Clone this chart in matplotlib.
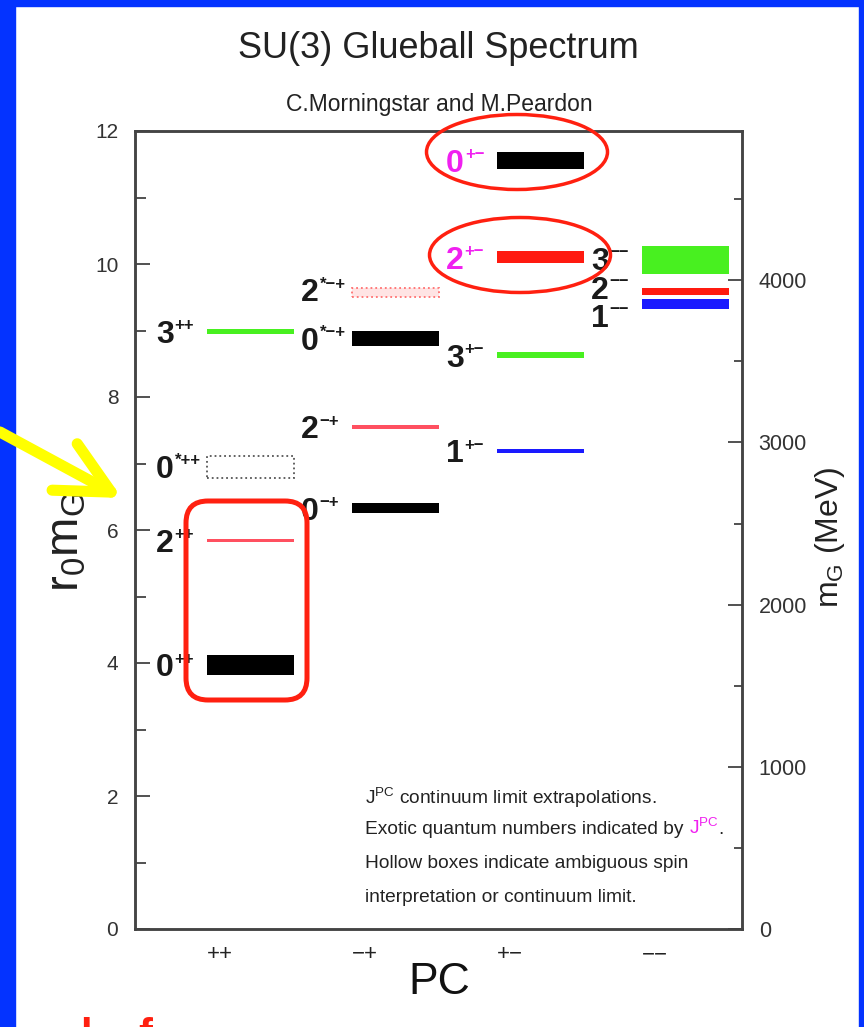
import matplotlib
matplotlib.use('Agg')
import matplotlib.pyplot as plt
from matplotlib.patches import Rectangle, Ellipse, FancyBboxPatch, FancyArrowPatch
from matplotlib.transforms import Affine2D
from matplotlib.ticker import MultipleLocator

plt.rcParams['font.family'] = ['Liberation Sans', 'DejaVu Sans']
plt.rcParams['mathtext.fontset'] = 'custom'
plt.rcParams['mathtext.rm'] = 'Liberation Sans'
plt.rcParams['mathtext.it'] = 'Liberation Sans:italic'
plt.rcParams['mathtext.bf'] = 'Liberation Sans:bold'

# PC channels on the x axis
pc_labels = ['++', '−+', '+−', '−−']

# glueball states: channel, spin J, superscript, r0*m, half width of band
state_col = [0, 0, 0, 0, 1, 1, 1, 1, 2, 2, 2, 2, 3, 3, 3]
state_J = ['0', '2', '0', '3', '0', '2', '0', '2', '1', '3', '2', '0', '1', '2', '3']
state_sup = ['++', '++', '*++', '++', '−+', '−+', '*−+', '*−+',
             '+−', '+−', '+−', '+−', '−−', '−−', '−−']
state_mass = [3.97, 5.84, 6.95, 8.99, 6.33, 7.55, 8.88, 9.57,
              7.19, 8.63, 10.10, 11.56, 9.40, 9.59, 10.06]
state_err = [0.15, 0.025, 0.17, 0.04, 0.075, 0.03, 0.11, 0.07,
             0.035, 0.045, 0.09, 0.125, 0.07, 0.05, 0.205]
state_hollow = [False, False, True, False, False, False, False, True,
                False, False, False, False, False, False, False]
state_exotic = [False, False, False, False, False, False, False, False,
                False, False, True, True, False, False, False]

r0_inv_mev = 410.0   # 1/r0 in MeV

# styles
spin_color = {'0': '#000000', '1': '#1a1aff', '2': '#ff1a10', '3': '#48f020'}
light_red = '#ff5060'
magenta = '#f020f0'
# label nudges so the -- labels don't overlap
label_dy = [0.0] * 7 + [0.04] + [0.0] * 4 + [-0.17, 0.06, 0.03]

W, H = 864, 1027
fig = plt.figure(figsize=(W / 100, H / 100), dpi=100)
fig.patch.set_facecolor('white')
px = Affine2D().scale(1, -1).translate(0, H)   # pixel coords, y down

ax = fig.add_axes([135 / W, 1 - 929 / H, 607 / W, 798 / H])
ax.set_xlim(0.414, 4.60)
ax.set_ylim(0, 12)

for i in range(len(state_mass)):
    x0 = state_col[i] + 1 - 0.09
    m, e = state_mass[i], state_err[i]
    col = spin_color[state_J[i]]
    if state_J[i] == '2' and state_col[i] in (0, 1):
        col = light_red
    if state_hollow[i]:
        if state_J[i] == '0':
            ax.bar(x0, 2 * e, bottom=m - e, width=0.6, align='edge',
                   facecolor='none', edgecolor='#555555', linestyle=':', lw=1.3)
        else:
            ax.bar(x0, 2 * e, bottom=m - e, width=0.6, align='edge',
                   facecolor='#ffe4e4', edgecolor='#ff7070', linestyle=':', lw=1.3)
    else:
        ax.bar(x0, 2 * e, bottom=m - e, width=0.6, align='edge', color=col, lw=0)

    tcol = magenta if state_exotic[i] else '#1a1a1a'
    t = ax.text(x0 - 0.35, m + label_dy[i], state_J[i], fontsize=23, weight='bold',
                color=tcol, ha='left', va='center_baseline')
    ax.annotate(state_sup[i], xy=(1, 1), xycoords=t, xytext=(0.5, -3),
                textcoords='offset points', fontsize=12, weight='bold',
                color=tcol, ha='left', va='center_baseline')

ax.set_xticks([1, 2, 3, 4], pc_labels)
ax.yaxis.set_major_locator(MultipleLocator(2))
ax.yaxis.set_minor_locator(MultipleLocator(1))
ax.tick_params(axis='x', length=0, labelsize=16, pad=11, labelcolor='#222222')
ax.tick_params(axis='y', which='major', direction='in', length=11, width=1.2,
               color='#333333', labelsize=15, labelcolor='#333333', pad=12)
ax.tick_params(axis='y', which='minor', direction='in', length=8, width=1.2,
               color='#333333')

ax2 = ax.twinx()
ax2.set_ylim(0, 12 * r0_inv_mev)
ax2.yaxis.set_major_locator(MultipleLocator(1000))
ax2.yaxis.set_minor_locator(MultipleLocator(500))
ax2.tick_params(axis='y', which='major', direction='in', length=10, width=1.2,
                color='#333333', labelsize=15.5, labelcolor='#333333', pad=12)
ax2.tick_params(axis='y', which='minor', direction='in', length=6, width=1.2,
                color='#333333')
for a in (ax, ax2):
    for s in a.spines.values():
        s.set_color('#444444')
        s.set_linewidth(1.8)

# titles and axis labels
fig.text(438, 48, 'SU(3) Glueball Spectrum', transform=px, ha='center',
         va='center', fontsize=26, color='#222222')
fig.text(439, 104, 'C.Morningstar and M.Peardon', transform=px, ha='center',
         va='center', fontsize=16.5, color='#222222')
fig.text(439, 982, 'PC', transform=px, ha='center', va='center', fontsize=32,
         color='#111111')
fig.text(66, 542, r'r$_0$m$_\mathregular{G}$', transform=px, ha='center',
         va='center', rotation=90, fontsize=34, color='#222222')
fig.text(830, 537, r'm$_\mathregular{G}$ (MeV)', transform=px, ha='center',
         va='center', rotation=90, fontsize=23, color='#222222')

# notes
fs = 13.8
nk = dict(transform=px, ha='left', va='center', fontsize=fs, color='#222222')
fig.text(365, 798, r'J$^{\mathregular{PC}}$ continuum limit extrapolations.', **nk)
t2 = fig.text(365, 830, 'Exotic quantum numbers indicated by ', **nk)
t2m = plt.annotate(r'J$^{\mathregular{PC}}$', xy=(1, 0), xycoords=t2, fontsize=fs,
                   color=magenta, ha='left', va='bottom', annotation_clip=False)
plt.annotate('.', xy=(1, 0), xycoords=t2m, fontsize=fs, color='#222222',
             ha='left', va='bottom', annotation_clip=False)
fig.text(365, 863, 'Hollow boxes indicate ambiguous spin', **nk)
fig.text(365, 897, 'interpretation or continuum limit.', **nk)

# slide overlays
blue = '#0433ff'
for r in [(0, 0, 15, H), (0, 0, W, 6), (859, 0, 5, H)]:
    fig.add_artist(Rectangle(r[:2], r[2], r[3], transform=px, color=blue, zorder=20))

red = '#ff2010'
fig.add_artist(Ellipse((517, 152), 181, 75, transform=px, fill=False,
                       ec=red, lw=2.5, zorder=20))
fig.add_artist(Ellipse((520, 255), 181, 75, transform=px, fill=False,
                       ec=red, lw=2.5, zorder=20))
fig.add_artist(FancyBboxPatch((186, 501), 121, 199, transform=px, fill=False,
                              ec=red, lw=3.6, zorder=20,
                              boxstyle='round,pad=0,rounding_size=22'))
fig.add_artist(FancyArrowPatch((0, 432), (122, 498), transform=px,
                               arrowstyle='->,head_length=3.8,head_width=1.9',
                               mutation_scale=10, lw=8, color='#ffff00',
                               shrinkA=0, shrinkB=0, zorder=21))
fig.text(80, 1017, 'l', transform=px, ha='left', va='top', fontsize=30,
         weight='bold', color=red)
fig.text(138, 1017, 'f', transform=px, ha='left', va='top', fontsize=30,
         weight='bold', color=red)

fig.savefig('out.png', dpi=100)
